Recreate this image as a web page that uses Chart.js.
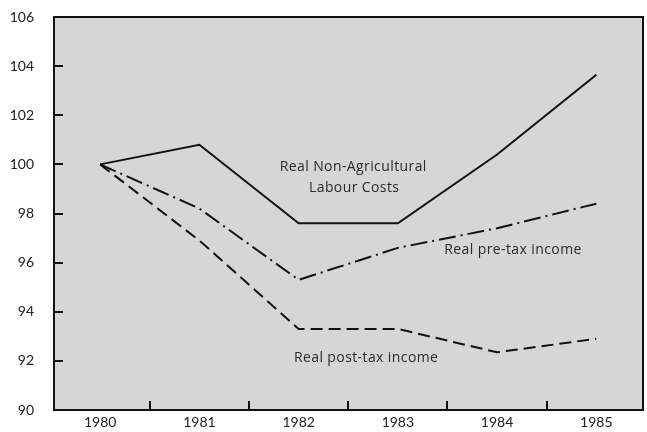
<!DOCTYPE html>
<html>
<head>
<meta charset="utf-8">
<script src="https://cdn.jsdelivr.net/npm/chart.js@4"></script>
<style>
html, body { margin: 0; padding: 0; background: #fff; }
#wrap { width: 647px; height: 432px; }
</style>
</head>
<body>
<div id="wrap"><canvas id="chart"></canvas></div>
<script>
'use strict';
const YEARS = [1980, 1981, 1982, 1983, 1984, 1985]
const LABOUR = [100, 100.8, 97.6, 97.6, 100.4, 103.65]
const PRETAX = [100, 98.2, 95.3, 96.6, 97.4, 98.4]
const POSTTAX = [100, 96.9, 93.3, 93.3, 92.35, 92.9]
const Y_TICKS = [90, 92, 94, 96, 98, 100, 102, 104, 106]
const X_MINOR = [1980.5, 1981.5, 1982.5, 1983.5, 1984.5]

// text labels placed in data units
const NOTES = [
    { text: 'Real Non-Agricultural', x: 1982.55, y: 99.88 },
    { text: 'Labour Costs', x: 1982.56, y: 99.02 },
    { text: 'Real pre-tax income', x: 1984.16, y: 96.5 },
    { text: 'Real post-tax income', x: 1982.68, y: 92.1 }
]

const FILL = 'rgb(214,214,214)'
const INK = '#111'

function pts(vals) {
    return YEARS.map(function (y, i) { return { x: y, y: vals[i] } })
}

const frame = {
    id: 'frame',
    beforeDatasetsDraw(chart) {
        const a = chart.chartArea
        const c = chart.ctx
        c.save()
        c.fillStyle = FILL
        c.fillRect(a.left, a.top, a.right - a.left, a.bottom - a.top)
        c.restore()
    },
    afterDraw(chart) {
        const a = chart.chartArea
        const c = chart.ctx
        const xs = chart.scales.x
        const ys = chart.scales.y
        c.save()
        c.strokeStyle = INK
        c.lineWidth = 2
        c.strokeRect(a.left, a.top, a.right - a.left, a.bottom - a.top)

        // inward tick marks
        c.beginPath()
        for (const v of Y_TICKS.slice(1, -1)) {
            const py = Math.round(ys.getPixelForValue(v))
            c.moveTo(a.left, py)
            c.lineTo(a.left + 9, py)
        }
        for (const v of X_MINOR) {
            const px = Math.round(xs.getPixelForValue(v))
            c.moveTo(px, a.bottom)
            c.lineTo(px, a.bottom - 9)
        }
        c.stroke()

        c.fillStyle = '#2a2a2a'
        c.font = '14px "Open Sans"'
        c.letterSpacing = '0.4px'
        c.textAlign = 'center'
        c.textBaseline = 'middle'
        for (const n of NOTES) {
            c.fillText(n.text, xs.getPixelForValue(n.x), ys.getPixelForValue(n.y))
        }
        c.restore()
    }
}

const ctx = document.getElementById('chart').getContext('2d')
const chart = new Chart(ctx, {
    type: 'line',
    data: {
        datasets: [{
            label: 'Real Non-Agricultural Labour Costs',
            data: pts(LABOUR),
            borderColor: INK,
            borderWidth: 2,
        }, {
            label: 'Real pre-tax income',
            data: pts(PRETAX),
            borderColor: INK,
            borderWidth: 2,
            borderDash: [17, 5, 2, 5],
        }, {
            label: 'Real post-tax income',
            data: pts(POSTTAX),
            borderColor: INK,
            borderWidth: 2,
            borderDash: [12, 6],
        }]
    },
    options: {
        responsive: true,
        maintainAspectRatio: false,
        animation: false,
        layout: { padding: { top: 17, right: 4, left: 0, bottom: 0 } },
        elements: { point: { radius: 0 }, line: { tension: 0 } },
        plugins: {
            legend: { display: false },
            tooltip: { enabled: false }
        },
        scales: {
            x: {
                type: 'linear',
                min: 1979.535,
                max: 1985.47,
                afterBuildTicks: function (s) { s.ticks = YEARS.map(function (v) { return { value: v } }) },
                afterFit: function (s) { s.height = 22; s.paddingLeft = 0; s.paddingRight = 0 },
                grid: { display: false, drawTicks: false },
                border: { display: false },
                ticks: {
                    padding: 4,
                    color: '#222',
                    font: { family: 'Lato', size: 14 },
                    callback: function (v) { return String(v) },
                    maxRotation: 0,
                    autoSkip: false
                }
            },
            y: {
                min: 90,
                max: 106,
                afterBuildTicks: function (s) { s.ticks = Y_TICKS.map(function (v) { return { value: v } }) },
                afterFit: function (s) { s.width = 54; s.paddingTop = 0; s.paddingBottom = 0 },
                grid: { display: false, drawTicks: false },
                border: { display: false },
                ticks: {
                    padding: 20,
                    color: '#222',
                    font: { family: 'Lato', size: 14 },
                    autoSkip: false
                }
            }
        }
    },
    plugins: [frame]
});
</script>
</body>
</html>
